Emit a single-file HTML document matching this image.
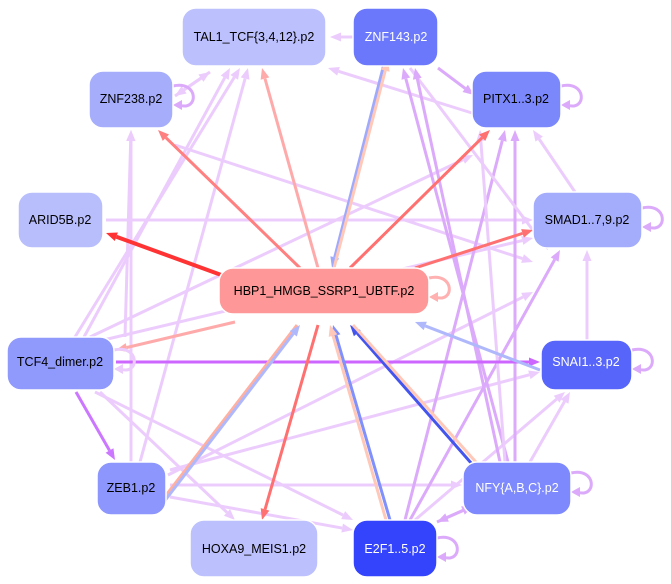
<!DOCTYPE html>
<html><head><meta charset="utf-8"><style>
body{margin:0;background:#fff;width:671px;height:584px;overflow:hidden}
svg{display:block}
text{font-family:"Liberation Sans",sans-serif;font-size:12.5px;text-anchor:middle;dominant-baseline:central}
</style></head><body>
<svg id="s" width="671" height="584" viewBox="0 0 671 584" xmlns="http://www.w3.org/2000/svg">
<g id="edges"></g>
<g id="nodes" stroke="#ffffff" stroke-width="1.5">
<rect x="182" y="8" width="144" height="58" rx="14" fill="#bcc0fc"/>
<rect x="353" y="8" width="85" height="58" rx="14" fill="#6b78fb"/>
<rect x="89" y="71" width="84" height="57" rx="14" fill="#a6aefc"/>
<rect x="472" y="71" width="89" height="57" rx="14" fill="#7b88fc"/>
<rect x="18" y="192" width="85" height="56" rx="14" fill="#b8befc"/>
<rect x="533" y="192" width="109" height="56" rx="14" fill="#a4acfc"/>
<rect x="219" y="268" width="210" height="46" rx="14" fill="#fe9898"/>
<rect x="7" y="337" width="107" height="53" rx="14" fill="#9099fc"/>
<rect x="541" y="340" width="91" height="50" rx="14" fill="#5865fb"/>
<rect x="97" y="462" width="69" height="53" rx="14" fill="#8c96fc"/>
<rect x="463" y="462" width="108" height="53" rx="14" fill="#7d89fc"/>
<rect x="190" y="520" width="128" height="57" rx="14" fill="#bcc0fc"/>
<rect x="353" y="520" width="84" height="57" rx="14" fill="#3443fc"/>
</g>
<g>
<text x="254" y="37">TAL1_TCF{3,4,12}.p2</text>
<text x="396" y="37" fill="#fff">ZNF143.p2</text>
<text x="131" y="99">ZNF238.p2</text>
<text x="516" y="99">PITX1..3.p2</text>
<text x="60" y="220">ARID5B.p2</text>
<text x="587" y="220">SMAD1..7,9.p2</text>
<text x="324" y="291">HBP1_HMGB_SSRP1_UBTF.p2</text>
<text x="60" y="362">TCF4_dimer.p2</text>
<text x="586" y="362" fill="#fff">SNAI1..3.p2</text>
<text x="131" y="488">ZEB1.p2</text>
<text x="517" y="488" fill="#fff">NFY{A,B,C}.p2</text>
<text x="254" y="549">HOXA9_MEIS1.p2</text>
<text x="395" y="549" fill="#fff">E2F1..5.p2</text>
</g>
</svg>
<script>
var L="#ecccfc",M="#dcaafa";
var E=[
[353,37,330,37,L],[438,68,474,95,M],[472,113,328,68,L],[210,72,175,96,L],[175,96,210,72,L],
[175,145,533,262,L],[106,220,533,220,L],[76,392,115,460,"#cc77ff"],[75,337,240,68,L],
[90,337,473,155,L],[95,342,533,238,L],[131,462,131,130,L],[140,462,248,68,L],
[170,485,462,485,L],[170,497,353,530,L],[170,470,540,372,L],[168,475,533,292,L],
[100,392,235,520,L],[95,392,353,520,L],[405,520,505,130,M],[410,520,560,250,M],
[415,520,565,392,L],[437,522,473,506,M],[473,506,437,522,M],[515,462,515,130,M],
[508,462,403,68,M],[530,462,570,392,L],[410,68,548,250,L],[575,192,533,130,L],
[587,340,587,250,L],[125,337,131,130,L],[84,337,230,68,L],[505,462,480,130,L],
[500,462,415,68,M],[116,362,540,362,"#cc66ff",3],
[235,280,106,233,"#ff3333",4],[300,268,158,130,"#ff8080"],[318,268,262,68,"#ffaaaa"],
[350,268,490,130,"#ff7070"],[415,268,533,230,"#ff7070"],[235,322,116,350,"#ffaaaa"],
[318,325,262,520,"#ff7070"],[297,325,157,507,"#ffb0a0"],[160,507,300,325,"#b0b8fc"],
[390,520,333,325,"#8090fc"],[386,520,330,325,"#ffc8b8"],[486,480,350,325,"#4455ee"],
[353,325,492,480,"#ffc8b8"],[540,370,415,322,"#b0b8fc"],[385,60,332,268,"#a0aafc"],[334,268,388,60,"#ffc8b8"]
];
var g=document.getElementById("edges"),h="";
E.forEach(function(e){var x1=e[0],y1=e[1],x2=e[2],y2=e[3],c=e[4],w=e[5]||3;
var dx=x2-x1,dy=y2-y1,d=Math.hypot(dx,dy),ux=dx/d,uy=dy/d,al=11,aw=4.5;
var bx=x2-ux*al,by=y2-uy*al;
h+='<line x1="'+x1+'" y1="'+y1+'" x2="'+bx+'" y2="'+by+'" stroke="'+c+'" stroke-width="'+w+'"/>';
h+='<polygon points="'+x2+','+y2+' '+(bx-uy*aw)+','+(by+ux*aw)+' '+(bx+uy*aw)+','+(by-ux*aw)+'" fill="'+c+'"/>';});
var loops=[[173,92,M],[561,92,M],[642,214,M],[429,284,"#ffb0b0"],[114,356,L],[632,356,M],[571,479,M],[437,544,M]];
loops.forEach(function(l){var x=l[0],y=l[1];h+='<path d="M'+x+','+(y-6)+' C'+(x+26)+','+(y-12)+' '+(x+26)+','+(y+20)+' '+(x+6)+','+(y+13)+'" fill="none" stroke="'+l[2]+'" stroke-width="3"/><polygon points="'+x+','+(y+13)+' '+(x+9)+','+(y+8)+' '+(x+9)+','+(y+18)+'" fill="'+l[2]+'"/>';});
g.innerHTML=h;
</script>
</body></html>
